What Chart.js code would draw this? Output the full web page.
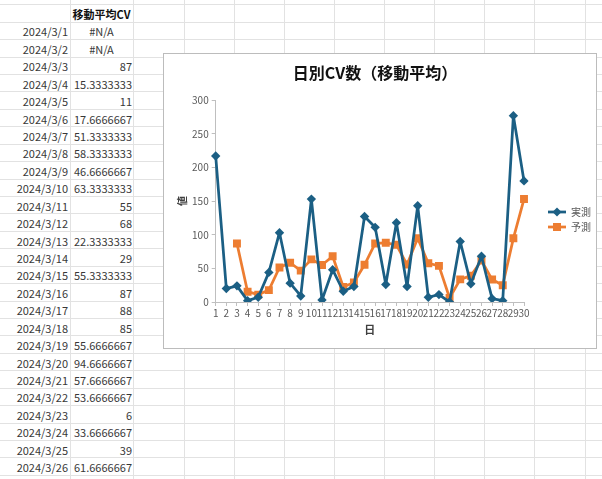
<!DOCTYPE html>
<html><head><meta charset="utf-8">
<script src="https://cdn.jsdelivr.net/npm/chart.js@4"></script>
<style>
html,body{margin:0;padding:0;background:#fff;width:602px;height:479px;overflow:hidden;position:relative;font-family:"Noto Sans CJK JP","Noto Sans",sans-serif;}
.hl{position:absolute;left:0;width:602px;height:1px;background:#e2e2e2;}
.vl{position:absolute;top:0;width:1px;height:479px;background:#e2e2e2;}
.cell{position:absolute;font-size:11px;color:#383838;white-space:nowrap;display:flex;align-items:center;}
#box{position:absolute;left:163px;top:53px;width:434px;height:296px;border:1px solid #bcbcbc;box-sizing:border-box;background:#fff;}
#c{display:block;}
</style></head><body>
<div id="grid"></div>
<div id="box"><canvas id="c" width="432" height="294"></canvas></div>
<script>
// ---- data ----
const days = ['1','2','3','4','5','6','7','8','9','10','11','12','13','14','15','16','17','18','19','20','21','22','23','24','25','26','27','28','29','30'];
const actual = [217,20,24,2,7,44,103,28,9,153,3,48,16,23,127,111,26,118,23,143,7,11,0,90,27,68,5,2,277,180];
const movingAvgText = ['#N/A','#N/A','87','15.3333333','11','17.6666667','51.3333333','58.3333333','46.6666667','63.3333333','55','68','22.3333333','29','55.3333333','87','88','85','55.6666667','94.6666667','57.6666667','53.6666667','6','33.6666667','39','61.6666667','33.3333333','25','94.6666667','153'];
const movingAvg = movingAvgText.map(t => t === '#N/A' ? null : parseFloat(t));
const seriesNames = ['実測', '予測'];
const chartTitle = '日別CV数（移動平均）';
const xTitle = '日';
const yTitle = '値';
const headerText = '移動平均CV';
const datePrefix = '2024/3/';
const visibleRows = 27;

// ---- spreadsheet background ----
const grid = document.getElementById('grid');
const rowTop = 4.3, rowH = 17.43;
for (let k = 0; k <= 28; k++) {
  const d = document.createElement('div'); d.className = 'hl';
  d.style.top = Math.round(rowTop + k * rowH) + 'px'; grid.appendChild(d);
}
[70,133,184,234,284,334,384,434,484,534,585].forEach(x => {
  const d = document.createElement('div'); d.className = 'vl'; d.style.left = x + 'px'; grid.appendChild(d);
});
function cell(text, left, width, k, align, bold) {
  const d = document.createElement('div'); d.className = 'cell';
  d.textContent = text;
  d.style.left = left + 'px'; d.style.width = width + 'px';
  d.style.top = (rowTop + k * rowH + 1) + 'px'; d.style.height = rowH + 'px';
  d.style.justifyContent = align === 'right' ? 'flex-end' : (align === 'center' ? 'center' : 'flex-start');
  if (bold) { d.style.fontWeight = 'bold'; d.style.color = '#111'; }
  grid.appendChild(d);
}
cell(headerText, 70, 63, 0, 'center', true);
for (let i = 0; i < visibleRows; i++) {
  cell(datePrefix + days[i], 0, 68, i + 1, 'right');
  const t = movingAvgText[i];
  cell(t, 70, t === '#N/A' ? 63 : 62, i + 1, t === '#N/A' ? 'center' : 'right');
}

// ---- chart ----
const blue = '#1B5F84', orange = '#ED7D31';
const FONT = '"Noto Sans CJK JP","Noto Sans",sans-serif';
function legendIcon(color, shape) {
  const c = document.createElement('canvas'); c.width = 18; c.height = 10;
  const g = c.getContext('2d');
  g.strokeStyle = color; g.lineWidth = 2.75;
  g.beginPath(); g.moveTo(0, 5); g.lineTo(18, 5); g.stroke();
  g.fillStyle = color; g.beginPath();
  if (shape === 'd') { g.moveTo(9, 0.5); g.lineTo(13.5, 5); g.lineTo(9, 9.5); g.lineTo(4.5, 5); g.closePath(); }
  else { g.rect(5, 1, 8, 8); }
  g.fill();
  return c;
}
const icons = [legendIcon(blue, 'd'), legendIcon(orange, 's')];

new Chart(document.getElementById('c'), {
  type: 'line',
  data: {
    labels: days,
    datasets: [
      { label: seriesNames[0], data: actual, borderColor: blue, backgroundColor: blue, borderWidth: 2.75,
        borderJoinStyle: 'round', borderCapStyle: 'round',
        pointStyle: 'rectRot', pointRadius: 4.7, pointBorderWidth: 0, pointBackgroundColor: blue, tension: 0 },
      { label: seriesNames[1], data: movingAvg, borderColor: orange, backgroundColor: orange, borderWidth: 2.75,
        borderJoinStyle: 'round', borderCapStyle: 'round',
        pointStyle: 'rect', pointRadius: 5.6, pointBorderWidth: 0, pointBackgroundColor: orange, tension: 0 }
    ]
  },
  options: {
    responsive: false, animation: false, devicePixelRatio: 1,
    layout: { padding: { left: 0, right: 72, top: 0, bottom: 0 } },
    plugins: {
      title: { display: true, text: chartTitle, color: '#111', font: { family: FONT, size: 16, weight: 'bold' }, padding: { top: 9, bottom: 18 } },
      legend: {
        position: 'chartArea', align: 'start',
        labels: {
          usePointStyle: true, pointStyleWidth: 18, padding: 5, color: '#595959', font: { family: FONT, size: 10 },
          generateLabels: chart => chart.data.datasets.map((ds, i) => ({
            text: ds.label, pointStyle: icons[i], fillStyle: ds.borderColor, strokeStyle: ds.borderColor,
            lineWidth: 0, hidden: false, datasetIndex: i, fontColor: '#595959'
          }))
        }
      },
      tooltip: { enabled: false }
    },
    scales: {
      x: {
        type: 'category', offset: false,
        grid: { display: true, drawOnChartArea: false, drawTicks: true, tickLength: 4, color: '#bfbfbf' },
        border: { color: '#bfbfbf', width: 1 },
        ticks: { autoSkip: false, maxRotation: 0, minRotation: 0, padding: 1, color: '#595959', font: { family: FONT, size: 10 } },
        title: { display: true, text: xTitle, color: '#404040', font: { family: FONT, size: 11, weight: 'bold' }, padding: { top: 4, bottom: 11.4 } },
        afterFit(s) { s.height = 46; }
      },
      y: {
        min: 0, max: 300,
        grid: { display: true, drawOnChartArea: false, drawTicks: true, tickLength: 4, color: '#bfbfbf' },
        border: { color: '#bfbfbf', width: 1 },
        ticks: { stepSize: 50, padding: 3, color: '#595959', font: { family: FONT, size: 10 } },
        title: { display: true, text: yTitle, color: '#404040', font: { family: FONT, size: 10, weight: 'bold' }, padding: { top: 12.4, bottom: 0 } },
        afterFit(s) { s.width = 51.7; }
      }
    }
  },
  plugins: [{
    id: 'placeBoxes',
    afterLayout(chart) {
      const lg = chart.legend, ca = chart.chartArea;
      if (lg) {
        const w = lg.width;
        lg.left = ca.right + 19; lg.right = lg.left + w;
        lg.top = 148; lg.bottom = lg.top + 100;
      }
      const tb = chart.titleBlock;
      if (tb) {
        const target = chart.width / 2 - 5;
        const shift = target - (tb.left + tb.right) / 2;
        tb.left += shift; tb.right += shift;
      }
    }
  }]
});
</script>
</body></html>
